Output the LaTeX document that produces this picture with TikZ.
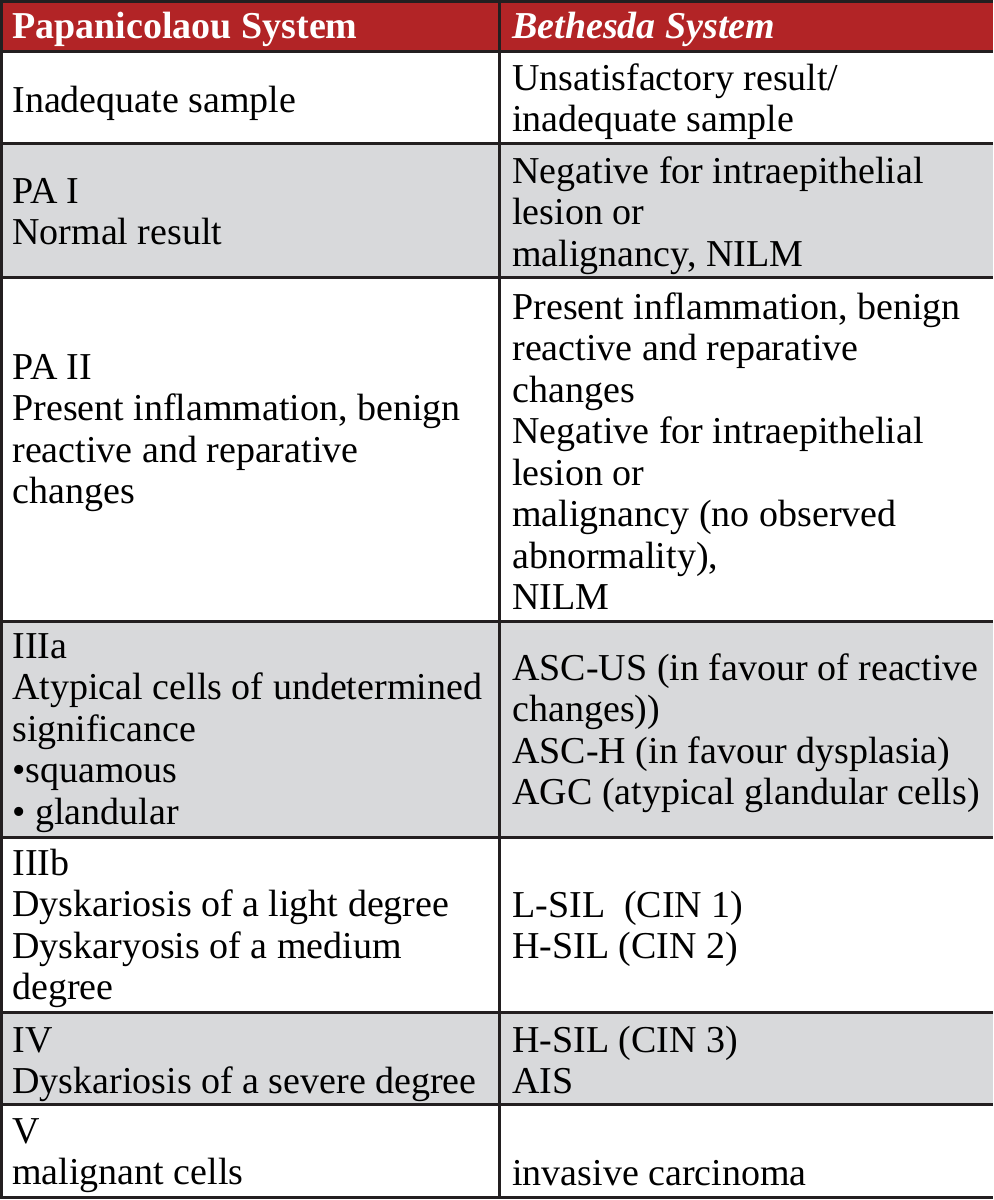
\documentclass[tikz,border=0pt]{standalone}
\usepackage{fontspec}
\setmainfont{Liberation Serif}
\definecolor{headred}{RGB}{178,36,38}
\definecolor{rowgray}{RGB}{216,217,219}
\definecolor{rulegray}{RGB}{35,31,32}
\tikzset{
  cell/.style={anchor=north west, inner sep=0pt, align=left,
    font=\fontsize{19}{20.75}\selectfont},
  headcell/.style={cell, text=white, font=\fontsize{19}{20.75}\selectfont\bfseries},
  gridline/.style={draw=rulegray, line width=1.5pt}
}
\begin{document}
\begin{tikzpicture}[x=0.5pt,y=-0.5pt]
      \useasboundingbox (0,0) rectangle (993,1200);
      % row shading
      \fill[headred] (0,0) rectangle (993,51);
      \fill[rowgray] (0,143) rectangle (993,277);
      \fill[rowgray] (0,621) rectangle (993,837);
      \fill[rowgray] (0,1012) rectangle (993,1104);
      % rules
      \foreach \y in {1.5,51,143,277,621,837,1012,1104,1197}
        \draw[gridline] (0,\y) -- (993,\y);
      \draw[gridline] (1,0) -- (1,1197);
      \draw[gridline] (499,0) -- (499,1197);
      % header
      \node[headcell] (pap0) at (12,9) {\strut Papanicolaou System};
      \node[headcell, font=\fontsize{19}{20.75}\selectfont\bfseries\itshape] (bet0) at (512,9) {\strut Bethesda System};
      % rows
      \node[cell] (pap1) at (12,83) {\strut Inadequate sample};
      \node[cell] (bet1) at (512,61) {\strut Unsatisfactory result/\\inadequate sample};
      \node[cell] (pap2) at (12,174) {\strut PA I\\Normal result};
      \node[cell] (bet2) at (512,154) {\strut Negative for intraepithelial\\lesion or\\malignancy, NILM};
      \node[cell] (pap3) at (12,350) {\strut PA II\\Present inflammation, benign\\reactive and reparative\\changes};
      \node[cell] (bet3) at (512,290) {\strut Present inflammation, benign\\reactive and reparative\\changes\\Negative for intraepithelial\\lesion or\\malignancy (no observed\\abnormality),\\NILM};
      \node[cell] (pap4) at (12,629) {\strut IIIa\\Atypical cells of undetermined\\significance\\\textbullet squamous\\\textbullet\ glandular};
      \node[cell] (bet4) at (512,651) {\strut ASC-US (in favour of reactive\\changes))\\ASC-H (in favour dysplasia)\\AGC (atypical glandular cells)};
      \node[cell] (pap5) at (12,846) {\strut IIIb\\Dyskariosis of a light degree\\Dyskaryosis of a medium\\degree};
      \node[cell] (bet5) at (512,888) {\strut L-SIL\ \ (CIN 1)\\H-SIL (CIN 2)};
      \node[cell] (pap6) at (12,1023) {\strut IV\\Dyskariosis of a severe degree};
      \node[cell] (bet6) at (512,1023) {\strut H-SIL (CIN 3)\\AIS};
      \node[cell] (pap7) at (12,1114) {\strut V\\malignant cells};
      \node[cell] (bet7) at (512,1156) {\strut invasive carcinoma};
    \end{tikzpicture}
\end{document}
